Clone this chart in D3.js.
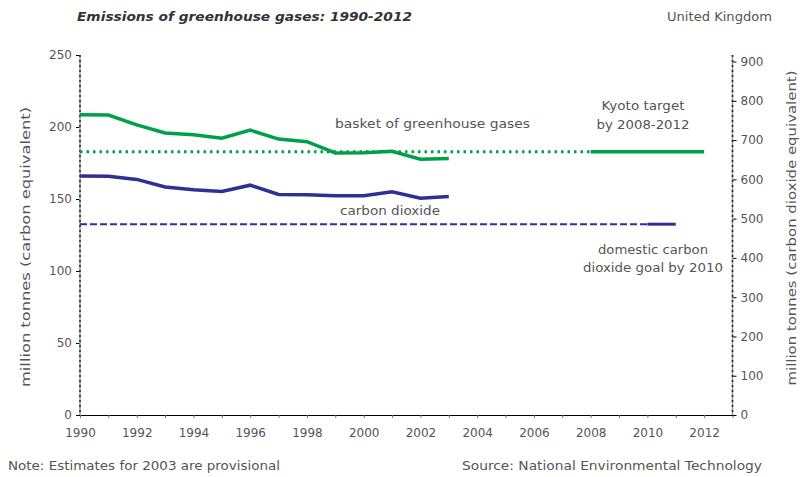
<!DOCTYPE html>
<html>
<head>
<meta charset="utf-8">
<script src="https://cdn.jsdelivr.net/npm/d3@7"></script>
<style>
  body { margin: 0; background: #fff; }
  svg text { font-family: "DejaVu Sans", Verdana, sans-serif; fill: #555; }
</style>
</head>
<body>
<div id="chart"></div>
<script>
// Data (million tonnes carbon equivalent)
var years = [1990, 1991, 1992, 1993, 1994, 1995, 1996, 1997, 1998, 1999, 2000, 2001, 2002, 2003];
var basket = [208.5, 208.3, 201.5, 195.8, 194.6, 192.2, 197.8, 191.6, 189.8, 182.0, 182.2, 183.2, 177.6, 178.2];
var co2 = [166.0, 165.8, 163.6, 158.3, 156.4, 155.2, 159.6, 153.1, 153.0, 152.2, 152.2, 155.0, 150.6, 151.8];
var kyotoTarget = 182.8;
var kyotoYears = [2008, 2012];
var co2Goal = 132.5;
var co2GoalYears = [2010, 2011];
var leftTicks = [0, 50, 100, 150, 200, 250];
var rightTicks = [0, 100, 200, 300, 400, 500, 600, 700, 800, 900];
var yearLabels = [1990, 1992, 1994, 1996, 1998, 2000, 2002, 2004, 2006, 2008, 2010, 2012];

var width = 800, height = 477;
var green = "#00a04b", navy = "#2e3192";

var svg = d3.select("#chart").append("svg")
    .attr("width", width)
    .attr("height", height);

var x = d3.scaleLinear().domain([1990, 2013]).range([80, 732.5]);
var yL = d3.scaleLinear().domain([0, 250]).range([415, 55]);
var yR = d3.scaleLinear().domain([0, 250 * 44 / 12]).range([415, 55]);

// x axis
var xAxis = d3.axisBottom(x)
    .tickValues(d3.range(1990, 2014))
    .tickSize(3)
    .tickSizeOuter(0)
    .tickFormat(function (d) { return yearLabels.indexOf(d) >= 0 ? d : ""; });
var gx = svg.append("g")
    .attr("transform", "translate(0," + yL(0) + ")")
    .call(xAxis);
gx.select(".domain").attr("stroke", "#000");
gx.selectAll(".tick line").attr("stroke", "#777");
gx.selectAll("text").style("font-size", "12px").attr("dy", "1.3em");

// left axis
var gl = svg.append("g")
    .attr("transform", "translate(" + x(1990) + ",0)")
    .call(d3.axisLeft(yL).tickValues(leftTicks).tickSize(4));
gl.select(".domain").remove();
gl.selectAll("text").style("font-size", "12px").attr("x", -8);

// right axis
var gr = svg.append("g")
    .attr("transform", "translate(" + x(2013) + ",0)")
    .call(d3.axisRight(yR).tickValues(rightTicks).tickSize(4));
gr.select(".domain").remove();
gr.selectAll("text").style("font-size", "12px").attr("x", 8);

// dotted vertical axis lines
[1990, 2013].forEach(function (yr) {
    svg.append("line")
        .attr("x1", x(yr)).attr("x2", x(yr))
        .attr("y1", yL(250)).attr("y2", yL(0))
        .attr("stroke", "#999").attr("stroke-width", 1.5);
    svg.append("line")
        .attr("x1", x(yr)).attr("x2", x(yr))
        .attr("y1", yL(250)).attr("y2", yL(0))
        .attr("stroke", "#222").attr("stroke-width", 1.5)
        .attr("stroke-dasharray", "2,3");
});

// target lines
svg.append("line")
    .attr("x1", x(1990)).attr("x2", x(kyotoYears[0]))
    .attr("y1", yL(kyotoTarget)).attr("y2", yL(kyotoTarget))
    .attr("stroke", green).attr("stroke-width", 3)
    .attr("stroke-dasharray", "2.5,4");
svg.append("line")
    .attr("x1", x(kyotoYears[0])).attr("x2", x(kyotoYears[1]))
    .attr("y1", yL(kyotoTarget)).attr("y2", yL(kyotoTarget))
    .attr("stroke", green).attr("stroke-width", 3.5);

svg.append("line")
    .attr("x1", x(1990)).attr("x2", x(co2GoalYears[0]))
    .attr("y1", yL(co2Goal)).attr("y2", yL(co2Goal))
    .attr("stroke", navy).attr("stroke-width", 2)
    .attr("stroke-dasharray", "7,3");
svg.append("line")
    .attr("x1", x(co2GoalYears[0])).attr("x2", x(co2GoalYears[1]))
    .attr("y1", yL(co2Goal)).attr("y2", yL(co2Goal))
    .attr("stroke", navy).attr("stroke-width", 3);

// data lines
var line = d3.line()
    .x(function (d, i) { return x(years[i]); })
    .y(function (d) { return yL(d); });

svg.append("path").datum(basket)
    .attr("d", line)
    .attr("fill", "none").attr("stroke", green).attr("stroke-width", 3.5);
svg.append("path").datum(co2)
    .attr("d", line)
    .attr("fill", "none").attr("stroke", navy).attr("stroke-width", 3.5);

// helper: text stretched to the width seen in the original
function label(xp, yp, str, size, len, anchor) {
    return svg.append("text")
        .attr("x", xp).attr("y", yp)
        .attr("text-anchor", anchor || "start")
        .attr("textLength", len)
        .attr("lengthAdjust", "spacingAndGlyphs")
        .style("font-size", size + "px")
        .text(str);
}

// annotations
label(335, 128, "basket of greenhouse gases", 13, 195);
label(340, 215, "carbon dioxide", 13, 100);
label(643, 110, "Kyoto target", 13, 83, "middle");
label(643, 129, "by 2008-2012", 13, 93, "middle");
label(653, 254, "domestic carbon", 13, 110, "middle");
label(653, 272, "dioxide goal by 2010", 13, 140, "middle");

// axis titles
label(0, 0, "million tonnes (carbon equivalent)", 13, 280, "middle")
    .attr("transform", "translate(30,247) rotate(-90)");
label(0, 0, "million tonnes (carbon dioxide equivalent)", 12.5, 315, "middle")
    .attr("transform", "translate(796,228) rotate(-90)");

// title and notes
label(77, 21, "Emissions of greenhouse gases: 1990-2012", 12, 335)
    .style("font-weight", "bold").style("font-style", "italic")
    .style("fill", "#333");
label(772, 21, "United Kingdom", 12, 105, "end");
label(8, 470, "Note: Estimates for 2003 are provisional", 12, 272);
label(462, 470, "Source: National Environmental Technology", 12, 300);
</script>
</body>
</html>
